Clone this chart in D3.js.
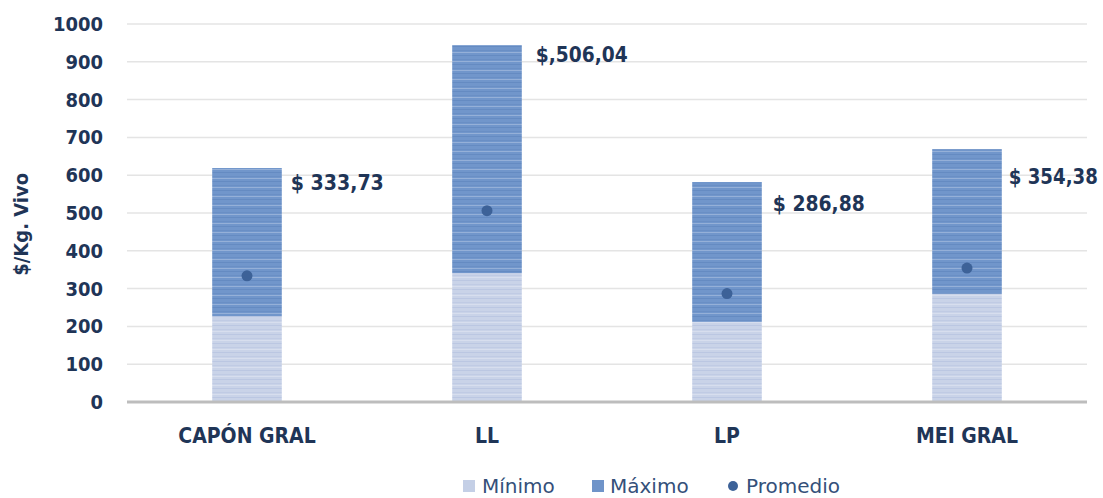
<!DOCTYPE html>
<html>
<head>
<meta charset="utf-8">
<script src="https://cdn.jsdelivr.net/npm/d3@7"></script>
<style>
body{margin:0;background:#fff;}
text{font-family:"DejaVu Sans",sans-serif;}
.cond{font-family:"DejaVu Sans Condensed","DejaVu Sans",sans-serif;font-stretch:condensed;}
</style>
</head>
<body>
<div id="chart"></div>
<script>
var categories = ["CAPÓN GRAL","LL","LP","MEI GRAL"];
var minimo = [227, 341, 212, 286];
var maximo = [619, 944, 582, 669];
var promedio = [333.73, 506.04, 286.88, 354.38];
var promedioLabels = ["$ 333,73","$,506,04","$ 286,88","$ 354,38"];
var yTicks = [0,100,200,300,400,500,600,700,800,900,1000];

var W = 1103, H = 498;
var margin = {left:127, right:16, top:24, bottom:96};
var labelDy = [22, 17, 29, 35]; // baseline offset below bar top, px
var labelDx = [9, 14, 11, 7];
var labelW = [93, 92, 92, 89];

var svg = d3.select("#chart").append("svg").attr("width",W).attr("height",H);

// stripe patterns
var defs = svg.append("defs");
function stripes(id, base, line){
    var p = defs.append("pattern").attr("id",id).attr("patternUnits","userSpaceOnUse")
        .attr("width",10).attr("height",9);
    p.append("rect").attr("width",10).attr("height",9).attr("fill",base);
    p.append("rect").attr("y",1).attr("width",10).attr("height",1).attr("fill",line).attr("opacity",0.5);
    p.append("rect").attr("y",5).attr("width",10).attr("height",1).attr("fill",line).attr("opacity",0.35);
    p.append("rect").attr("y",7).attr("width",10).attr("height",1).attr("fill","#fff").attr("opacity",0.25);
}
stripes("pMin","#c9d3e8","#aebcdc");
stripes("pMax","#7196cb","#5a80ba");

var x = d3.scaleBand().domain(categories).range([margin.left, W-margin.right]).paddingInner(0.71).paddingOuter(0.355);
var y = d3.scaleLinear().domain([0,1000]).range([H-margin.bottom, margin.top]);

// gridlines
svg.append("g").selectAll("line").data(yTicks.filter(function(d){return d>0;})).enter().append("line")
    .attr("x1",margin.left).attr("x2",W-margin.right)
    .attr("y1",function(d){return y(d);}).attr("y2",function(d){return y(d);})
    .attr("stroke","#e4e4e4").attr("stroke-width",1.5);

// y axis labels
var yAxis = d3.axisLeft(y).tickValues(yTicks).tickFormat(d3.format("d")).tickSize(0).tickPadding(24);
var ya = svg.append("g").attr("transform","translate("+margin.left+",0)").call(yAxis);
ya.select(".domain").remove();
ya.selectAll("text").attr("class","cond").attr("font-size",20).attr("font-weight","bold").attr("fill","#1f3557")
    .style("font-family",null);

svg.append("text").attr("class","cond").attr("transform","translate(28,"+y(470)+") rotate(-90)")
    .attr("text-anchor","middle").attr("font-size",20).attr("font-weight","bold").attr("fill","#1f3557")
    .text("$/Kg. Vivo");

// bars
svg.append("g").selectAll("rect").data(categories).enter().append("rect")
    .attr("x",function(d){return x(d);}).attr("width",x.bandwidth())
    .attr("y",function(d,i){return y(minimo[i]);})
    .attr("height",function(d,i){return y(0)-y(minimo[i]);})
    .attr("fill","url(#pMin)");
svg.append("g").selectAll("rect").data(categories).enter().append("rect")
    .attr("x",function(d){return x(d);}).attr("width",x.bandwidth())
    .attr("y",function(d,i){return y(maximo[i]);})
    .attr("height",function(d,i){return y(minimo[i])-y(maximo[i]);})
    .attr("fill","url(#pMax)");

// baseline
svg.append("line").attr("x1",margin.left).attr("x2",W-margin.right)
    .attr("y1",y(0)).attr("y2",y(0)).attr("stroke","#bdbdbd").attr("stroke-width",3);

// promedio dots
svg.append("g").selectAll("circle").data(categories).enter().append("circle")
    .attr("cx",function(d){return x(d)+x.bandwidth()/2;})
    .attr("cy",function(d,i){return y(promedio[i]);})
    .attr("r",5.5).attr("fill","#3d6298");

// labels
svg.append("g").selectAll("text").data(categories).enter().append("text")
    .attr("class","cond")
    .attr("x",function(d,i){return x(d)+x.bandwidth()+labelDx[i];})
    .attr("y",function(d,i){return y(maximo[i])+labelDy[i];})
    .attr("font-size",21).attr("font-weight","bold").attr("fill","#1f3557")
    .attr("textLength",function(d,i){return labelW[i];}).attr("lengthAdjust","spacingAndGlyphs")
    .text(function(d,i){return promedioLabels[i];});

// x axis labels
var xAxis = d3.axisBottom(x).tickSize(0).tickPadding(26);
var xa = svg.append("g").attr("transform","translate(0,"+y(0)+")").call(xAxis);
xa.select(".domain").remove();
xa.selectAll("text").attr("class","cond").attr("font-size",21).attr("font-weight","bold").attr("fill","#1f3557")
    .style("font-family",null);

// legend
var leg = svg.append("g").attr("transform","translate(463,485)");
leg.append("rect").attr("x",0).attr("y",-5).attr("width",12).attr("height",12).attr("fill","#c4cfe6");
leg.append("text").attr("x",19).attr("y",8).attr("font-size",20).attr("fill","#34507a").text("Mínimo");
leg.append("rect").attr("x",129).attr("y",-5).attr("width",12).attr("height",12).attr("fill","#6f94c9");
leg.append("text").attr("x",147).attr("y",8).attr("font-size",20).attr("fill","#34507a").text("Máximo");
leg.append("circle").attr("cx",270).attr("cy",1).attr("r",5).attr("fill","#3d6298");
leg.append("text").attr("x",283).attr("y",8).attr("font-size",20).attr("fill","#34507a").text("Promedio");
</script>
</body>
</html>
